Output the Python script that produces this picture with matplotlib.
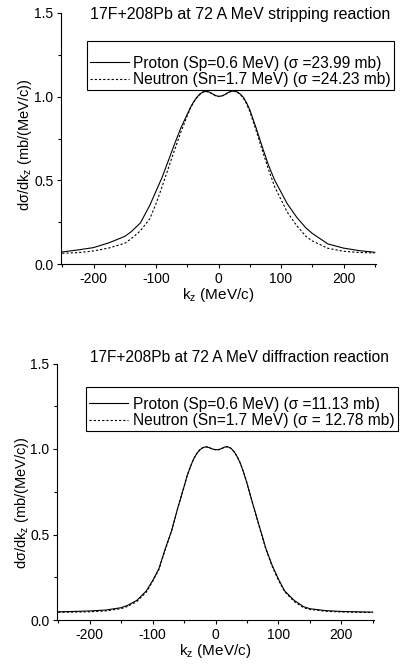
import matplotlib
matplotlib.use('Agg')
import matplotlib.pyplot as plt
from matplotlib.ticker import MultipleLocator

plt.rcParams['font.family'] = ['Liberation Sans', 'DejaVu Sans']
plt.rcParams['mathtext.fontset'] = 'custom'
plt.rcParams['mathtext.rm'] = 'Liberation Sans'
plt.rcParams['mathtext.it'] = 'Liberation Sans'
plt.rcParams['axes.unicode_minus'] = False

# momentum grid (MeV/c)
kz = [-250, -225, -200, -175, -150, -140, -125, -110, -100, -90, -80, -70, -60, -50,
      -45, -40, -35, -30, -25, -20, -15, -10, -5, 0, 5, 10, 15, 20, 25, 30, 35, 40, 45,
      50, 60, 70, 80, 90, 100, 110, 125, 140, 150, 175, 200, 225, 250]

# stripping reaction
strip_proton = [0.072, 0.084, 0.098, 0.127, 0.165, 0.192, 0.245, 0.35, 0.435, 0.52, 0.62, 0.72, 0.815, 0.895,
                0.935, 0.968, 0.995, 1.015, 1.028, 1.032, 1.028, 1.018, 1.007, 1.002, 1.004, 1.012, 1.024, 1.032, 1.034, 1.028, 1.015, 0.995, 0.963,
                0.922, 0.815, 0.70, 0.59, 0.50, 0.43, 0.36, 0.28, 0.215, 0.183, 0.12, 0.095, 0.08, 0.07]
strip_neutron = [0.064, 0.068, 0.078, 0.096, 0.124, 0.15, 0.198, 0.27, 0.36, 0.465, 0.575, 0.685, 0.79, 0.885,
                 0.93, 0.965, 0.993, 1.013, 1.027, 1.031, 1.027, 1.017, 1.006, 1.001, 1.003, 1.011, 1.023, 1.031, 1.033, 1.027, 1.013, 0.99, 0.957,
                 0.912, 0.80, 0.68, 0.565, 0.46, 0.385, 0.31, 0.23, 0.165, 0.138, 0.094, 0.076, 0.069, 0.066]

# diffraction reaction
diff_proton = [0.048, 0.05, 0.053, 0.058, 0.072, 0.085, 0.115, 0.17, 0.23, 0.30, 0.415, 0.52, 0.655, 0.78,
               0.845, 0.895, 0.94, 0.972, 0.995, 1.008, 1.013, 1.008, 1.0, 0.996, 0.996, 1.003, 1.012, 1.013, 1.003, 0.982, 0.952, 0.912, 0.86,
               0.80, 0.67, 0.545, 0.42, 0.32, 0.24, 0.17, 0.115, 0.078, 0.066, 0.055, 0.05, 0.048, 0.046]
diff_neutron = [0.045, 0.046, 0.048, 0.053, 0.066, 0.079, 0.108, 0.163, 0.225, 0.295, 0.41, 0.518, 0.653, 0.779,
                0.845, 0.895, 0.94, 0.972, 0.995, 1.008, 1.013, 1.008, 1.0, 0.996, 0.996, 1.003, 1.012, 1.013, 1.003, 0.982, 0.952, 0.912, 0.86,
                0.80, 0.668, 0.54, 0.415, 0.315, 0.232, 0.165, 0.108, 0.072, 0.062, 0.051, 0.047, 0.045, 0.044]

titles = ['17F+208Pb at 72 A MeV stripping reaction', '17F+208Pb at 72 A MeV diffraction reaction']
proton_labels = ['Proton (Sp=0.6 MeV) (\u03c3 =23.99 mb)', 'Proton (Sp=0.6 MeV) (\u03c3 =11.13 mb)']
neutron_labels = ['Neutron (Sn=1.7 MeV) (\u03c3 =24.23 mb)', 'Neutron (Sn=1.7 MeV) (\u03c3 = 12.78 mb)']

W, H = 401, 668
fig = plt.figure(figsize=(W / 100, H / 100), dpi=100)

# axes boxes in pixels: left, right, top, bottom
boxes = [(61, 376, 13, 264), (57, 374, 363.5, 620)]
title_y = [15, 358]
title_size = [11.5, 11.2]
legend_anchor = [(0.082, 0.888), (0.092, 0.909)]
legend_gap = [7, 3.5]
ylabel_pos = [(-0.086, 0.476), (-0.083, 0.456)]

for i, (ys_p, ys_n) in enumerate([(strip_proton, strip_neutron), (diff_proton, diff_neutron)]):
    l, r, t, b = boxes[i]
    ax = fig.add_axes([l / W, (H - b) / H, (r - l) / W, (b - t) / H])
    ax.plot(kz, ys_p, color='black', lw=0.8, label=proton_labels[i])
    ax.plot(kz, ys_n, color='black', lw=0.8, linestyle=(0, (2, 1.8)), label=neutron_labels[i])
    ax.set_xlim(-252, 252)
    ax.set_ylim(0, 1.5)
    ax.spines['top'].set_visible(False)
    ax.spines['right'].set_visible(False)
    ax.spines['left'].set_linewidth(0.8)
    ax.spines['bottom'].set_linewidth(0.8)
    ax.xaxis.set_major_locator(MultipleLocator(100))
    ax.xaxis.set_minor_locator(MultipleLocator(50))
    ax.yaxis.set_major_locator(MultipleLocator(0.5))
    ax.yaxis.set_minor_locator(MultipleLocator(0.25))
    ax.tick_params(which='major', direction='out', length=3, width=0.8, labelsize=10, pad=2.5)
    ax.tick_params(which='minor', direction='out', length=2.5, width=0.8)
    ax.set_xlabel('k$_z$ (MeV/c)', fontsize=11, labelpad=0)
    ax.set_ylabel('d\u03c3/dk$_z$ (mb/(MeV/c))', fontsize=10.5)
    ax.yaxis.set_label_coords(*ylabel_pos[i])
    leg = ax.legend(loc='upper left', bbox_to_anchor=legend_anchor[i], borderaxespad=0,
                    fontsize=11.2, frameon=True, fancybox=False, edgecolor='black',
                    handlelength=2.5, handletextpad=0.3, labelspacing=0.1,
                    borderpad=0.2, framealpha=1, title=' ', title_fontsize=legend_gap[i])
    leg.get_frame().set_linewidth(0.8)
    fig.text(90 / W, 1 - title_y[i] / H, titles[i], fontsize=title_size[i], ha='left', va='center')

fig.savefig('out.png', dpi=100)
